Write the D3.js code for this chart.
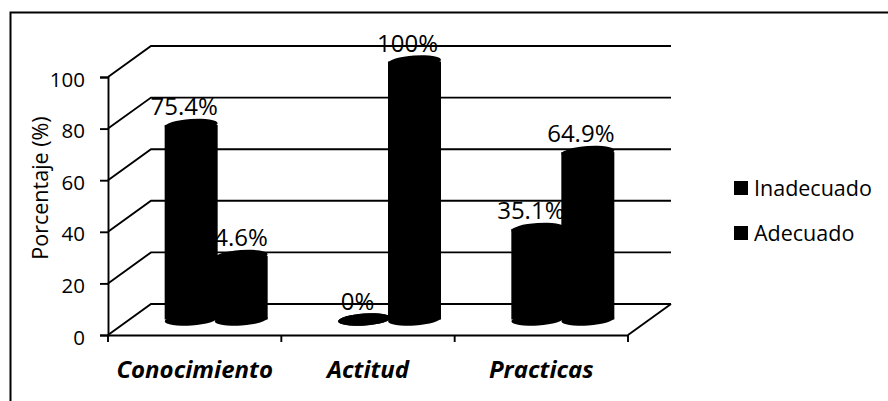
<!DOCTYPE html>
<html>
<head>
<meta charset="utf-8">
<script src="https://cdn.jsdelivr.net/npm/d3@7"></script>
<style>
  html, body { margin: 0; background: #fff; }
  svg { display: block; }
  text { font-family: "Open Sans", "Noto Sans", sans-serif; fill: #000; }
</style>
</head>
<body>
<svg width="888" height="401"></svg>
<script>
var categories = ["Conocimiento", "Actitud", "Practicas"];
var seriesNames = ["Inadecuado", "Adecuado"];
var inadecuado = [75.4, 0, 35.1];
var adecuado = [24.6, 100, 64.9];
var labelsInadecuado = ["75.4%", "0%", "35.1%"];
var labelsAdecuado = ["24.6%", "100%", "64.9%"];
var yTicks = [0, 20, 40, 60, 80, 100];

var svg = d3.select("svg");

// 3d box: front plane of the chart and how far the back wall is shifted
var front = {left: 108, right: 628, bottom: 335, top: 77},
    depth = {x: 43, y: -31},
    ink = "#000";

var x = d3.scaleBand().domain(categories).range([front.left, front.right]),
    y = d3.scaleLinear().domain([0, 100]).range([front.bottom, front.top]),
    xInner = d3.scaleBand().domain(seriesNames).range([-50, 50]);

// outer frame, open on the right
svg.append("path")
    .attr("d", "M888,12.5H10.5V401")
    .attr("fill", "none")
    .attr("stroke", ink)
    .attr("stroke-width", 2);

// walls
var grid = svg.append("g").attr("fill", "none").attr("stroke", ink).attr("stroke-width", 1.9);

grid.selectAll(".wall")
  .data(yTicks)
  .enter().append("path")
    .attr("class", "wall")
    .attr("d", function(d) {
      return "M" + front.left + "," + y(d) +
        "l" + depth.x + "," + depth.y +
        "H" + (front.right + depth.x);
    });

grid.append("path")
    .attr("d", "M" + front.right + "," + y(0) + "l" + depth.x + "," + depth.y);

// axes
var yAxis = svg.append("g")
    .attr("transform", "translate(" + front.left + ",0)")
    .call(d3.axisLeft(y).tickValues(yTicks).tickSize(8).tickPadding(15));

var xAxis = svg.append("g")
    .attr("transform", "translate(0," + y(0) + ")")
    .call(d3.axisBottom(x).tickSize(0).tickPadding(26));

// tick marks sit between the categories, so they are added by hand
xAxis.selectAll(".sep")
  .data(d3.range(categories.length + 1))
  .enter().append("line")
    .attr("class", "sep")
    .attr("x1", function(i) { return front.left + i * x.step(); })
    .attr("x2", function(i) { return front.left + i * x.step(); })
    .attr("y2", 7)
    .attr("stroke", ink)
    .attr("stroke-width", 1.9);

svg.selectAll(".domain").attr("stroke", ink).attr("stroke-width", 1.9);
yAxis.selectAll(".tick line").attr("stroke", ink).attr("stroke-width", 1.9);
yAxis.selectAll("text").attr("y", 2.5).style("font-size", "20.5px").attr("fill", ink);
xAxis.selectAll("text")
    .style("font-size", "24px")
    .style("font-weight", "700")
    .style("font-style", "italic")
    .attr("fill", ink)
    .attr("text-anchor", "middle");

svg.append("text")
    .attr("transform", "translate(48,188) rotate(-90)")
    .attr("text-anchor", "middle")
    .style("font-size", "21.5px")
    .text("Porcentaje (%)");

// cylinders stand in the middle of the floor
var floorY = y(0) + depth.y / 2,
    rx = 26.5,
    ry = 6;

var rows = [];
categories.forEach(function(c, i) {
  rows.push({cat: c, series: seriesNames[0], value: inadecuado[i], label: labelsInadecuado[i]});
  rows.push({cat: c, series: seriesNames[1], value: adecuado[i], label: labelsAdecuado[i]});
});

function centerX(d) {
  return x(d.cat) + x.bandwidth() / 2 + depth.x / 2 + xInner(d.series) + xInner.bandwidth() / 2;
}
function topY(d) {
  return y(d.value) + depth.y / 2;
}

var bars = svg.selectAll(".bar")
  .data(rows)
  .enter().append("g")
    .attr("class", "bar")
    .attr("transform", function(d) { return "translate(" + centerX(d) + ",0)"; })
    .attr("fill", ink);

bars.append("rect")
    .attr("x", -rx)
    .attr("width", rx * 2)
    .attr("y", topY)
    .attr("height", function(d) { return floorY - topY(d); });

// top and bottom caps lean a little, like the perspective of the 3d view
bars.append("ellipse")
    .attr("rx", rx)
    .attr("ry", ry)
    .attr("transform", function() { return "translate(0," + floorY + ") rotate(-4)"; });

bars.append("ellipse")
    .attr("rx", rx)
    .attr("ry", ry)
    .attr("transform", function(d) { return "translate(0," + topY(d) + ") rotate(-4)"; });

// value labels sit a little left of their cylinder
svg.selectAll(".value")
  .data(rows)
  .enter().append("text")
    .attr("class", "value")
    .attr("x", function(d) { return centerX(d) - 7; })
    .attr("y", function(d) { return topY(d) - 10; })
    .attr("text-anchor", "middle")
    .style("font-size", "24px")
    .text(function(d) { return d.label; });

// legend
var legend = svg.selectAll(".legend")
  .data(seriesNames)
  .enter().append("g")
    .attr("class", "legend")
    .attr("transform", function(d, i) { return "translate(734," + (181 + i * 45) + ")"; });

legend.append("rect")
    .attr("width", 14)
    .attr("height", 14)
    .attr("fill", ink);

legend.append("text")
    .attr("x", 20)
    .attr("y", 15)
    .style("font-size", "21.5px")
    .text(function(d) { return d; });
</script>
</body>
</html>
